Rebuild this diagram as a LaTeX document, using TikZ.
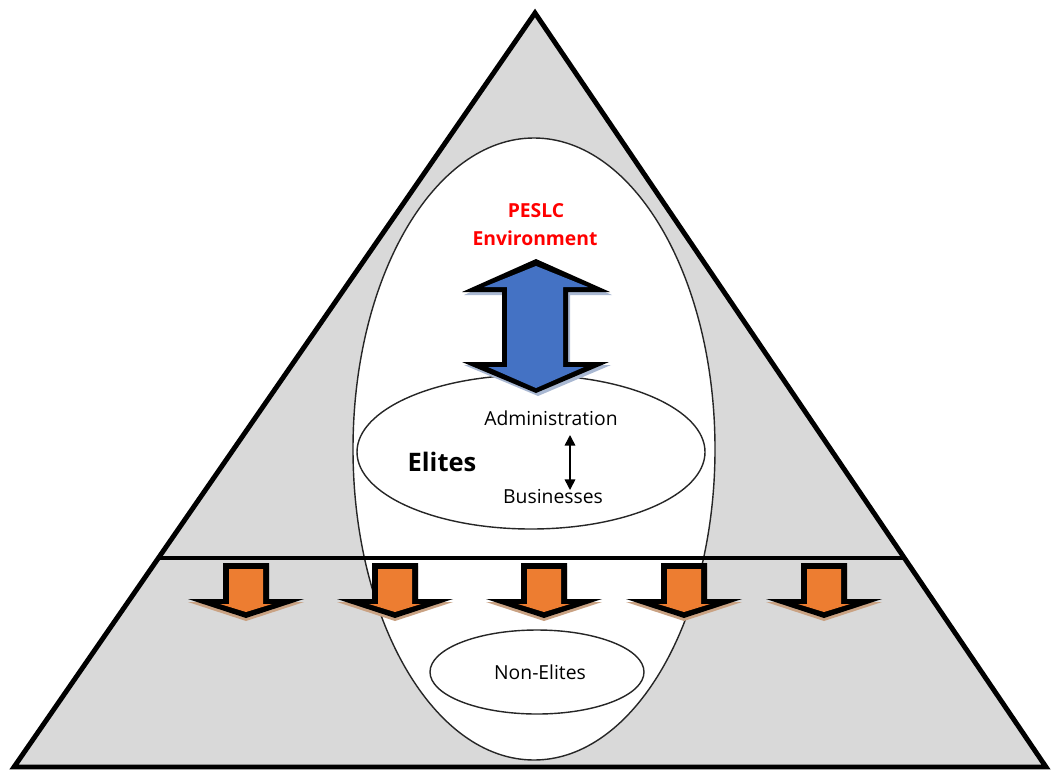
\documentclass[tikz,border=0pt]{standalone}
\usepackage{fontspec}
\setmainfont{Open Sans}
\usepackage{tikz}
\usetikzlibrary{arrows.meta}

\definecolor{pyramid}{HTML}{D9D9D9}
\definecolor{envblue}{HTML}{4472C4}
\definecolor{floworange}{HTML}{ED7D31}
\definecolor{orangeshadow}{HTML}{C9A283}
\definecolor{blueshadow}{HTML}{A9B8D2}

\begin{document}
\begin{tikzpicture}[x=0.02cm, y=-0.02cm]
\useasboundingbox (0,0) rectangle (1054,774);

% pyramid and the line between the two layers
\draw[line width=2.8pt, fill=pyramid, line join=miter] (535,13) -- (1046,767) -- (14,767) -- cycle;

\begin{scope}[every path/.style={draw=black!85, line width=0.8pt, fill=white}]
  \path (534,449) ellipse [x radius=181, y radius=311];
  \path (531,452) ellipse [x radius=174, y radius=77];
  \path (537,672) ellipse [x radius=107, y radius=42];
\end{scope}

\begin{scope}
  \clip (535,13) -- (1046,767) -- (14,767) -- cycle;
  \draw[line width=2.4pt] (0,558) -- (1054,558);
\end{scope}

% environment arrow
\begin{scope}
  \fill[blueshadow, shift={(2,3)}] (536,259) -- (610,292) -- (568,292) -- (568,362) -- (609,362) -- (536,393) -- (462,362) -- (502,362) -- (502,292) -- (462,292) -- cycle;
  \fill[black] (536,259) -- (610,292) -- (568,292) -- (568,362) -- (609,362) -- (536,393) -- (462,362) -- (502,362) -- (502,292) -- (462,292) -- cycle;
  \fill[envblue] (536,266) -- (588,287) -- (563,287) -- (563,367) -- (584,367) -- (536,388) -- (488,367) -- (507,367) -- (507,287) -- (484,287) -- cycle;
\end{scope}

% arrows down to the non-elites
\foreach \c in {246,395,544,684,824} {
  \begin{scope}[shift={(\c,0)}]
    \fill[orangeshadow] (-23,566) -- (23,566) -- (23,602) -- (58,602) -- (0,621) -- (-58,602) -- (-23,602) -- cycle;
    \fill[black] (-23,563) -- (23,563) -- (23,599) -- (58,599) -- (0,618) -- (-58,599) -- (-23,599) -- cycle;
    \fill[floworange] (-17,569) -- (17,569) -- (17,604) -- (26,604) -- (0,612) -- (-26,604) -- (-17,604) -- cycle;
  \end{scope}
}

\begin{scope}[every node/.style={anchor=base, inner sep=0pt, font=\fontsize{11}{13}\selectfont}]
  \node[text=red, font=\bfseries\fontsize{11}{13}\selectfont] (peslc) at (536,217) {PESLC};
  \node[text=red, font=\bfseries\fontsize{11}{13}\selectfont] (env) at (535,245) {Environment};
  \node (admin) at (551,425) {Administration};
  \node[font=\bfseries\fontsize{14.5}{17}\selectfont] (elites) at (442,471) {Elites};
  \node (bus) at (553,503) {Businesses};
  \node (nonelites) at (540,679) {Non-Elites};
\end{scope}

\coordinate (link top) at (570,435);
\coordinate (link bottom) at (570,490);
\begin{scope}[>={Triangle[length=6pt, width=6pt]},
              every edge/.style={draw=black, line width=0.9pt}]
    \path [<->] (link top) edge (link bottom);
\end{scope}

\end{tikzpicture}
\end{document}
